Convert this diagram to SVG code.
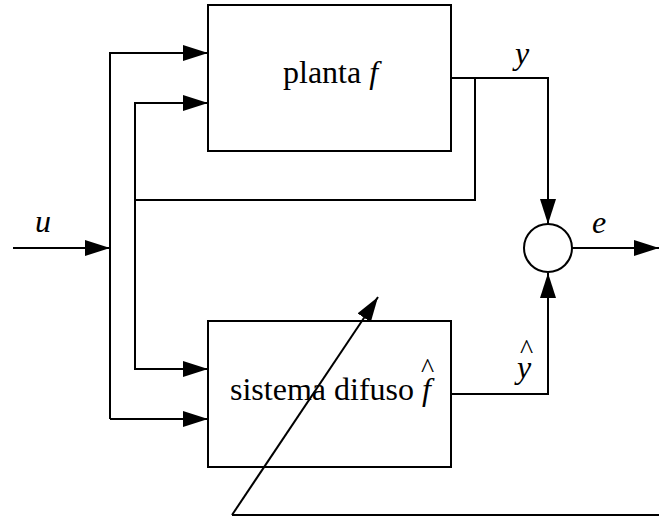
<svg xmlns="http://www.w3.org/2000/svg" width="659" height="516" viewBox="0 0 659 516">
<style>
.box{fill:none;stroke:#000;stroke-width:2}
.ln{fill:none;stroke:#000;stroke-width:2}
.arr{marker-end:url(#ah)}
.t{font-family:"Liberation Serif","Times New Roman",serif;font-size:32px;fill:#000}
.i{font-style:italic}
.hat{font-size:28px;font-style:normal}
</style>
<defs>
<marker id="ah" markerUnits="userSpaceOnUse" markerWidth="26" markerHeight="18" refX="25" refY="8" orient="auto">
<path d="M0,0 L25,8 L0,16 Z" fill="#000"/>
</marker>
</defs>
<g id="planta">
<rect class="box" x="208" y="5" width="243" height="146"/>
<text class="t" x="283" y="83">planta <tspan class="i">f</tspan></text>
</g>
<g id="sistema">
<rect class="box" x="208" y="321" width="243" height="146"/>
<text class="t" x="230" y="400">sistema difuso <tspan class="i">f</tspan><tspan class="hat" x="421" y="377">^</tspan></text>
</g>
<g id="sum">
<circle class="box" cx="548" cy="248" r="24"/>
</g>
<g id="connectors">
<polyline class="ln arr" points="13,248 110,248"/>
<polyline class="ln arr" points="110,419 110,53 208,53"/>
<polyline class="ln arr" points="110,419 208,419"/>
<polyline class="ln arr" points="135,369 135,103 208,103"/>
<polyline class="ln arr" points="135,200 135,369 208,369"/>
<polyline class="ln" points="135,200 475,200 475,78"/>
<polyline class="ln arr" points="451,78 548,78 548,224"/>
<polyline class="ln arr" points="451,394 548,394 548,273"/>
<polyline class="ln arr" points="572,248 659,248"/>
<polyline class="ln" points="659,515 232,515"/>
<line class="ln arr" x1="232" y1="515" x2="378" y2="297"/>
<text class="t i" x="35" y="232">u</text>
<text class="t i" x="515" y="64">y</text>
<text class="t i" x="592" y="233">e</text>
<text class="t"><tspan class="i" x="517" y="378">y</tspan><tspan class="hat" x="520" y="358">^</tspan></text>
</g>
</svg>
